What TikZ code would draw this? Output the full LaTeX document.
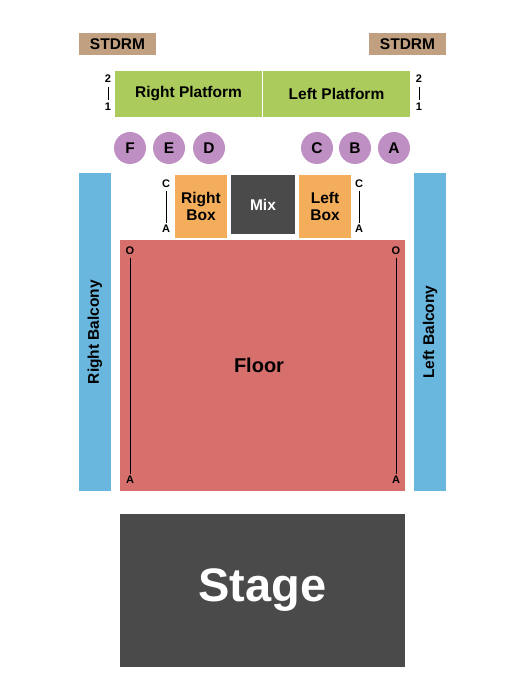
\documentclass[tikz,border=0pt]{standalone}
\usepackage{fontspec}
\setmainfont{Liberation Sans}
\definecolor{tan}{HTML}{C1A081}
\definecolor{plat}{HTML}{ABCB5C}
\definecolor{circ}{HTML}{BE8FC2}
\definecolor{boxor}{HTML}{F4AD5A}
\definecolor{balc}{HTML}{69B6DE}
\definecolor{floorc}{HTML}{D7706D}
\definecolor{darkg}{HTML}{4A4A4A}
\begin{document}
\begin{tikzpicture}[x=1pt,y=-1pt,
  area/.style={rectangle,inner sep=0pt,outer sep=0pt,font=\fontsize{15.5}{17}\selectfont\bfseries,align=center},
  seat/.style={circle,fill=circ,minimum size=32pt,inner sep=0pt,font=\fontsize{15.5}{17}\selectfont\bfseries},
  lbl/.style={inner sep=0.5pt,font=\fontsize{11}{12}\selectfont\bfseries},
  rowline/.style={line width=0.9pt,black}]
\useasboundingbox (0,0) rectangle (525,700);
% STDRM
\node[area,fill=tan,minimum width=77pt,minimum height=22pt] (sl) at (117.5,44) {STDRM};
\node[area,fill=tan,minimum width=77pt,minimum height=22pt] (sr) at (407.5,44) {STDRM};
% Platforms
\node[area,fill=plat,minimum width=147pt,minimum height=46pt] (rp) at (188.5,94) {Right Platform};
\node[area,fill=plat,minimum width=147pt,minimum height=46pt] (lp) at (336.5,94) {Left Platform};
\node[lbl] (rp2) at (108,79) {2};
\node[lbl] (rp1) at (108,107) {1};
\draw[rowline,shorten <=3pt,shorten >=3pt] (rp2.south) -- (rp1.north);
\node[lbl] (lp2) at (419,79) {2};
\node[lbl] (lp1) at (419,107) {1};
\draw[rowline,shorten <=3pt,shorten >=3pt] (lp2.south) -- (lp1.north);
% seats
\node[seat] (sF) at (130,148) {F};
\node[seat] (sE) at (169,148) {E};
\node[seat] (sD) at (209,148) {D};
\node[seat] (sC) at (317,148) {C};
\node[seat] (sB) at (355,148) {B};
\node[seat] (sA) at (394,148) {A};
% boxes
\node[area,fill=boxor,minimum width=52pt,minimum height=63pt] (rbox) at (201,206.5) {Right\\Box};
\node[area,fill=darkg,text=white,minimum width=64pt,minimum height=59pt] (mix) at (263,204.5) {Mix};
\node[area,fill=boxor,minimum width=52pt,minimum height=63pt] (lbox) at (325,206.5) {Left\\Box};
\node[lbl] (rbc) at (166,184) {C};
\node[lbl] (rba) at (166,229) {A};
\draw[rowline,shorten <=2pt,shorten >=2pt] (rbc.south) -- (rba.north);
\node[lbl] (lbc) at (359,184) {C};
\node[lbl] (lba) at (359,229) {A};
\draw[rowline,shorten <=2pt,shorten >=2pt] (lbc.south) -- (lba.north);
% balconies
\node[area,fill=balc,minimum width=32pt,minimum height=318pt] (rbal) at (95,332) {};
\node[area,rotate=90] (rbalt) at (rbal.center) {Right Balcony};
\node[area,fill=balc,minimum width=32pt,minimum height=318pt] (lbal) at (430,332) {};
\node[area,rotate=90] (lbalt) at (lbal.center) {Left Balcony};
% floor
\node[area,fill=floorc,minimum width=285pt,minimum height=251pt] (floor) at (262.5,365.5) {};
\node[area,font=\fontsize{20}{22}\selectfont\bfseries] (floort) at (259,365) {Floor};
\node[lbl] (flo) at (130,251) {O};
\node[lbl] (fla) at (130,480) {A};
\draw[rowline,shorten <=2pt,shorten >=2pt] (flo.south) -- (fla.north);
\node[lbl] (fro) at (396,251) {O};
\node[lbl] (fra) at (396,480) {A};
\draw[rowline,shorten <=2pt,shorten >=2pt] (fro.south) -- (fra.north);
% stage
\node[area,fill=darkg,text=white,minimum width=285pt,minimum height=153pt,font=\fontsize{47}{50}\selectfont\bfseries] (stage) at (262.5,590.5) {Stage};
\end{tikzpicture}
\end{document}
